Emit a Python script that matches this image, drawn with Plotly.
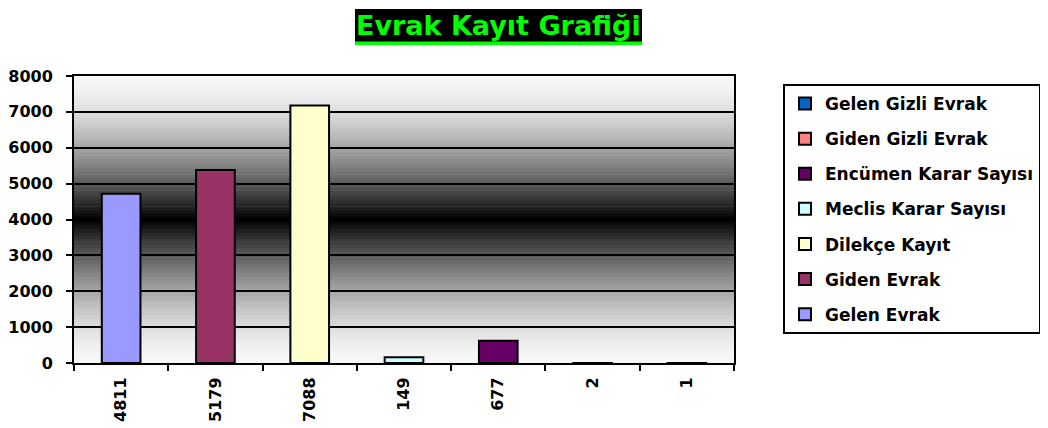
import plotly.graph_objects as go

# ---- data ----
categories = ["4811", "5179", "7088", "149", "677", "2", "1"]
series_names = ["Gelen Evrak", "Giden Evrak", "Dilekçe Kayıt", "Meclis Karar Sayısı",
                "Encümen Karar Sayısı", "Giden Gizli Evrak", "Gelen Gizli Evrak"]
values = [4720, 5380, 7180, 160, 620, 2, 1]
colors = ["#9999FF", "#993366", "#FFFFCC", "#CCFFFF", "#660066", "#FF8080", "#0066CC"]
y_ticks = [0, 1000, 2000, 3000, 4000, 5000, 6000, 7000, 8000]
title_text = "Evrak Kayıt Grafiği"

# ---- layout geometry (pixels, in screen coords; page body has an 8px margin) ----
OFF = 8
W, H = 1048 - OFF, 428 - OFF
L, R, T, B = 74 - OFF, 734 - OFF, 76 - OFF, 363 - OFF
FONT = "DejaVu Sans"

def px(xs):
    return (xs - OFF - L) / (R - L)

def py(ys):
    return (B - (ys - OFF)) / (B - T)

fig = go.Figure()
# added in reverse so that the legend lists the last series first
for i in reversed(range(len(categories))):
    fig.add_trace(go.Bar(
        x=[categories[i]], y=[values[i]], name=series_names[i], width=0.41,
        marker=dict(color=colors[i], line=dict(color="black", width=2)),
        legendgroup=f"g{i}",
    ))

# gradient background (white -> black at middle -> white)
shapes = []
N = 90
for k in range(N):
    y0 = k / N
    y1 = (k + 1) / N
    ym = (y0 + y1) / 2
    d = abs(ym - 0.5) * 2
    v = 0.97 * (1 - (1 - d) ** 1.6)
    c = int(round(v * 255))
    shapes.append(dict(type="rect", xref="x domain", yref="y domain",
                       x0=0, x1=1, y0=y0, y1=min(1, y1 + 0.002), layer="below",
                       line=dict(width=0), fillcolor=f"rgb({c},{c},{c})"))

# title box
shapes.append(dict(type="rect", xref="paper", yref="paper",
                   x0=px(355), x1=px(642), y0=py(42), y1=py(9),
                   fillcolor="black", line=dict(width=0), layer="above"))
shapes.append(dict(type="rect", xref="paper", yref="paper",
                   x0=px(355), x1=px(642), y0=py(45), y1=py(41.5),
                   fillcolor="#00FF00", line=dict(width=0), layer="above"))

fig.update_layout(
    width=W, height=H,
    margin=dict(l=L, r=W - R, t=T, b=H - B, pad=0, autoexpand=False),
    paper_bgcolor="white", plot_bgcolor="white",
    barmode="overlay",
    shapes=shapes,
    showlegend=True,
    legend=dict(
        x=px(783), y=py(84), xanchor="left", yanchor="top",
        traceorder="grouped", tracegroupgap=10,
        bordercolor="black", borderwidth=2, bgcolor="white",
        font=dict(family=FONT, size=17, color="black", weight="bold"),
    ),
    annotations=[dict(
        text=title_text, xref="paper", yref="paper",
        x=px(498.5), y=py(25.5), xanchor="center", yanchor="middle",
        showarrow=False,
        font=dict(family=FONT, size=27, color="#00FF00", weight="bold"),
    )],
    xaxis=dict(
        type="category", categoryorder="array", categoryarray=categories,
        tickson="boundaries", ticks="outside", ticklen=6, tickwidth=2, tickcolor="black",
        showline=True, linecolor="black", linewidth=2, mirror=True,
        showgrid=False, tickangle=-90, ticklabelstandoff=6, automargin=False,
        tickfont=dict(family=FONT, size=16, color="black", weight="bold"),
    ),
    yaxis=dict(
        range=[0, 8000], tickvals=y_ticks,
        ticks="outside", ticklen=6, tickwidth=2, tickcolor="black",
        showline=True, linecolor="black", linewidth=2, mirror=True,
        showgrid=True, gridcolor="black", gridwidth=2, zeroline=False,
        ticklabelstandoff=10, automargin=False,
        tickfont=dict(family=FONT, size=16, color="black", weight="bold"),
    ),
)

fig.write_html("out.html")
